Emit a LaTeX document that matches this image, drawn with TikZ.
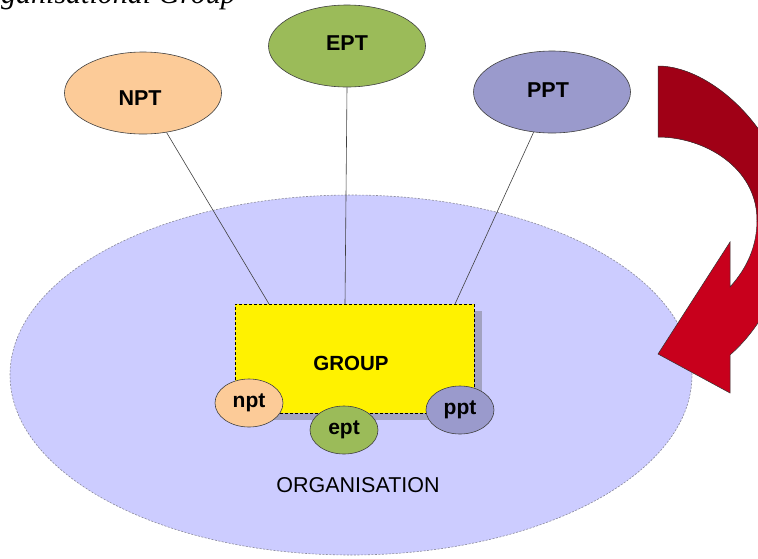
\documentclass[tikz,border=0pt]{standalone}
\usepackage{fontspec}
\setmainfont{Liberation Serif}
\setsansfont{Liberation Sans}
\usetikzlibrary{shapes.geometric}

\definecolor{orgfill}{HTML}{CCCCFF}
\definecolor{orgedge}{HTML}{8A8A9A}
\definecolor{npcol}{HTML}{FCCB98}
\definecolor{epcol}{HTML}{9BBB59}
\definecolor{ppcol}{HTML}{9A9ACC}
\definecolor{grpshadow}{HTML}{A2A2C0}
\definecolor{arrowdark}{HTML}{A00016}
\definecolor{arrowbright}{HTML}{C8001C}
\definecolor{edgegray}{HTML}{404040}

\begin{document}
\begin{tikzpicture}[x=1pt, y=-1pt,
  typeell/.style={ellipse, draw=edgegray, line width=0.6pt, inner sep=0pt,
    minimum width=157pt, minimum height=82pt},
  typelabel/.style={inner sep=0pt, font=\sffamily\bfseries\fontsize{21.5}{26}\selectfont},
  memberell/.style={ellipse, draw=edgegray, line width=0.6pt, inner sep=0pt,
    minimum width=68pt, minimum height=48pt,
    font=\sffamily\bfseries\fontsize{21}{25}\selectfont},
  link/.style={draw=edgegray, line width=0.6pt},
  groupbox/.style={rectangle, fill=yellow, draw=black, line width=0.6pt,
    dash pattern=on 3pt off 2pt, inner sep=0pt,
    minimum width=239pt, minimum height=109pt}
]
\useasboundingbox (0,0) rectangle (758,558);

% heading, partly outside the page
\node[anchor=base west, inner sep=0pt,
  font=\itshape\fontsize{30}{36}\selectfont] (heading) at (1,3) {ganisational Group};

% the organisation
\node[ellipse, fill=orgfill, draw=orgedge, line width=0.6pt,
  dash pattern=on 2pt off 1.5pt, inner sep=0pt,
  minimum width=682pt, minimum height=360pt] (org) at (351,375) {};
\node[font=\sffamily\fontsize{21.5}{26}\selectfont, inner sep=0pt]
  (orglabel) at (358,485) {ORGANISATION};

% the three types above
\node[typeell, fill=npcol] (NPTe) at (143,93) {};
\node[typelabel] (NPTt) at (140,98) {NPT};
\node[typeell, fill=epcol] (EPTe) at (347,46) {};
\node[typelabel] (EPTt) at (347,43) {EPT};
\node[typeell, fill=ppcol] (PPTe) at (552,92) {};
\node[typelabel] (PPTt) at (548,90) {PPT};

% group with its shadow
\fill[grpshadow] (242,311) rectangle (482,420);
\node[groupbox] (grp) at (354.5,358.5) {};
\node[typelabel, font=\sffamily\bfseries\fontsize{20.5}{25}\selectfont] (grplabel) at (351,363) {GROUP};

% connectors from the types to the group
\coordinate (gn) at (269,304);
\coordinate (ge) at (345,304);
\coordinate (gp) at (455,304);
\draw[link] (NPTe) -- (gn);
\draw[link] (EPTe.south) -- (ge);
\draw[link] (PPTe) -- (gp);

% members of the group
\node[memberell, fill=npcol] (npt) at (249,403) {npt};
\node[memberell, fill=epcol] (ept) at (344,430) {ept};
\node[memberell, fill=ppcol] (ppt) at (460,410) {ppt};

% curved arrow on the right
\path[save path=\redarrow]
  (658,66) .. controls (715,66) and (790,140) .. (790,220)
  .. controls (790,265) and (770,320) .. (730,355)
  -- (730,393) -- (658,354) -- (730,242) -- (730,287)
  .. controls (748,267) and (757,245) .. (757,220)
  .. controls (757,168) and (705,137) .. (658,137) -- cycle;
\fill[arrowbright, use path=\redarrow];
\begin{scope}
  \clip (600,40) rectangle (820,221);
  \fill[arrowdark, use path=\redarrow];
\end{scope}
\draw[black!80, line width=0.5pt, use path=\redarrow];
\end{tikzpicture}
\end{document}
